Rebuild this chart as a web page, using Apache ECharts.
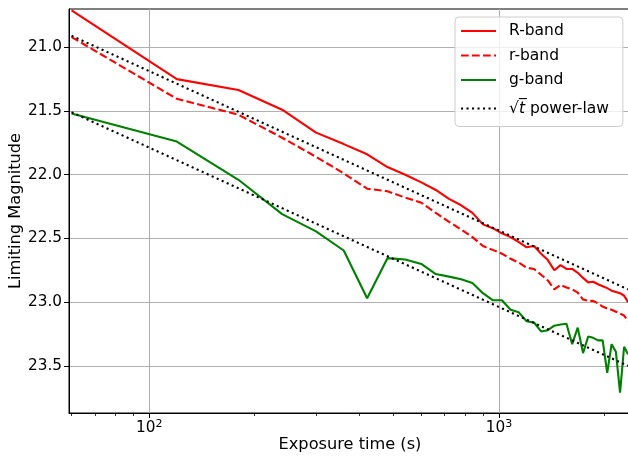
<!DOCTYPE html>
<html>
<head>
<meta charset="utf-8">
<script src="https://cdn.jsdelivr.net/npm/echarts@6/dist/echarts.min.js"></script>
<style>
  html, body { margin: 0; padding: 0; background: #fff; }
  #chart { width: 628px; height: 456px; }
</style>
</head>
<body>
<div id="chart"></div>
<script>
// exposure times (s), one frame every 60 s
var exposure = [60, 120, 180, 240, 300, 360, 420, 480, 540, 600,
  660, 720, 780, 840, 900, 960, 1020, 1080, 1140, 1200,
  1260, 1320, 1380, 1440, 1500, 1560, 1620, 1680, 1740, 1800,
  1860, 1920, 1980, 2040, 2100, 2160, 2220, 2280, 2340];

var bandR = [20.71, 21.25, 21.335, 21.49, 21.67, 21.76, 21.84, 21.94, 22.00, 22.06,
  22.12, 22.19, 22.24, 22.30, 22.39, 22.42, 22.46, 22.49, 22.53, 22.57,
  22.56, 22.62, 22.67, 22.75, 22.71, 22.74, 22.74, 22.77, 22.81, 22.845,
  22.84, 22.86, 22.875, 22.89, 22.91, 22.92, 22.93, 22.95, 23.00];

var bandr = [20.92, 21.405, 21.53, 21.71, 21.86, 21.99, 22.11, 22.13, 22.18, 22.22,
  22.30, 22.37, 22.43, 22.49, 22.56, 22.59, 22.62, 22.66, 22.69, 22.73,
  22.74, 22.785, 22.83, 22.90, 22.865, 22.885, 22.90, 22.925, 22.98, 22.99,
  22.99, 23.01, 23.035, 23.05, 23.06, 23.075, 23.09, 23.105, 23.15];

var bandg = [21.52, 21.74, 22.04, 22.31, 22.445, 22.595, 22.97, 22.655, 22.665, 22.70,
  22.78, 22.80, 22.82, 22.85, 22.93, 22.985, 22.985, 23.06, 23.08, 23.15,
  23.16, 23.23, 23.22, 23.185, 23.175, 23.17, 23.33, 23.20, 23.40, 23.27,
  23.28, 23.30, 23.30, 23.555, 23.33, 23.39, 23.71, 23.35, 23.41];

// sqrt(t) power-law guides (straight in log t), end points
var lawTimes = [60, 2340];
var lawR = [20.91, 22.90];
var lawG = [21.51, 23.50];

var xMajor = [100, 1000];
var xMinor = [60, 70, 80, 90, 200, 300, 400, 500, 600, 700, 800, 900, 2000];
var yTicks = [21.0, 21.5, 22.0, 22.5, 23.0, 23.5];

function pairs(xs, ys) {
  return xs.map(function (x, i) { return [x, ys[i]]; });
}

var font = 'DejaVu Sans';
var tickSize = 15.3;
var myChart = echarts.init(document.getElementById('chart'));

myChart.setOption({
  animation: false,
  backgroundColor: '#fff',
  grid: {
    left: 69, top: 9, right: -3, bottom: 43,
    show: true, borderColor: '#000', borderWidth: 1,
    containLabel: false, outerBoundsMode: 'none'
  },
  legend: {
    orient: 'vertical',
    left: 455, top: 17,
    padding: [6, 14, 6, 5],
    itemGap: 8.5,
    itemWidth: 35, itemHeight: 14,
    backgroundColor: 'rgba(255,255,255,0.8)',
    borderColor: '#cccccc', borderWidth: 1, borderRadius: 4,
    itemStyle: { color: 'rgba(0,0,0,0)', borderWidth: 0, opacity: 0 },
    data: ['R-band', 'r-band', 'g-band', 'sqrt'],
    formatter: function (name) {
      if (name === 'sqrt') return '{m|√}{it|t\u0305}{m| power-law}';
      return name;
    },
    textStyle: {
      fontFamily: font, fontSize: 15.5, color: '#000', lineHeight: 16,
      padding: [0, 0, 0, 8],
      rich: {
        m: { fontFamily: font, fontSize: 15.5, color: '#000', lineHeight: 24 },
        it: { fontFamily: font, fontSize: 15.5, fontStyle: 'italic', color: '#000', lineHeight: 24 }
      }
    }
  },
  xAxis: [{
    type: 'log', logBase: 10,
    min: 59, max: 2386,
    name: 'Exposure time (s)', nameLocation: 'middle', nameGap: 24, nameMoveOverlap: false,
    nameTextStyle: { fontFamily: font, fontSize: 16.2, color: '#000' },
    axisLine: { show: true, lineStyle: { color: '#000', width: 1 } },
    axisTick: { show: true, length: 5, lineStyle: { color: '#000', width: 1 }, customValues: xMajor },
    axisLabel: {
      customValues: xMajor, margin: 6, color: '#000',
      fontFamily: font, fontSize: tickSize,
      formatter: function (v) { return '{b|10}{s|' + Math.round(Math.log10(v)) + '}'; },
      rich: {
        b: { fontFamily: font, fontSize: tickSize, lineHeight: 19, color: '#000' },
        s: { fontFamily: font, fontSize: 11, lineHeight: 11, verticalAlign: 'top', color: '#000' }
      }
    },
    splitLine: { show: true, lineStyle: { color: '#b0b0b0', width: 1.1 } }
  }, {
    type: 'log', logBase: 10, gridIndex: 0, position: 'bottom',
    min: 59, max: 2386,
    axisLine: { show: false },
    axisTick: { show: true, length: 3, lineStyle: { color: '#000', width: 0.8 }, customValues: xMinor },
    axisLabel: { show: false },
    splitLine: { show: false }
  }],
  yAxis: {
    type: 'value', inverse: true,
    min: 20.70, max: 23.87,
    name: 'Limiting Magnitude', nameLocation: 'middle', nameGap: 45, nameRotate: 90, nameMoveOverlap: false,
    nameTextStyle: { fontFamily: font, fontSize: 16.2, color: '#000' },
    axisLine: { show: true, lineStyle: { color: '#000', width: 1 } },
    axisTick: { show: true, length: 5, lineStyle: { color: '#000', width: 1 }, customValues: yTicks },
    axisLabel: {
      customValues: yTicks, margin: 7, color: '#000',
      fontFamily: font, fontSize: tickSize,
      formatter: function (v) { return v.toFixed(1); }
    },
    splitLine: { show: true, lineStyle: { color: '#b0b0b0', width: 1.1 } }
  },
  series: [
    {
      name: 'R-band', type: 'line', symbol: 'none',
      data: pairs(exposure, bandR),
      lineStyle: { color: '#ff0000', width: 2.1 }, itemStyle: { color: '#ff0000' }
    },
    {
      name: 'r-band', type: 'line', symbol: 'none',
      data: pairs(exposure, bandr),
      lineStyle: { color: '#ff0000', width: 2.1, type: [7.7, 3.3] }, itemStyle: { color: '#ff0000' }
    },
    {
      name: 'g-band', type: 'line', symbol: 'none',
      data: pairs(exposure, bandg),
      lineStyle: { color: '#008000', width: 2.1 }, itemStyle: { color: '#008000' }
    },
    {
      name: 'sqrt', type: 'line', symbol: 'none',
      data: pairs(lawTimes, lawR),
      lineStyle: { color: '#000', width: 2.1, type: [2.1, 3.4] }, itemStyle: { color: '#000' }
    },
    {
      name: 'sqrt', type: 'line', symbol: 'none',
      data: pairs(lawTimes, lawG),
      lineStyle: { color: '#000', width: 2.1, type: [2.1, 3.4] }, itemStyle: { color: '#000' }
    }
  ]
});
</script>
</body>
</html>
